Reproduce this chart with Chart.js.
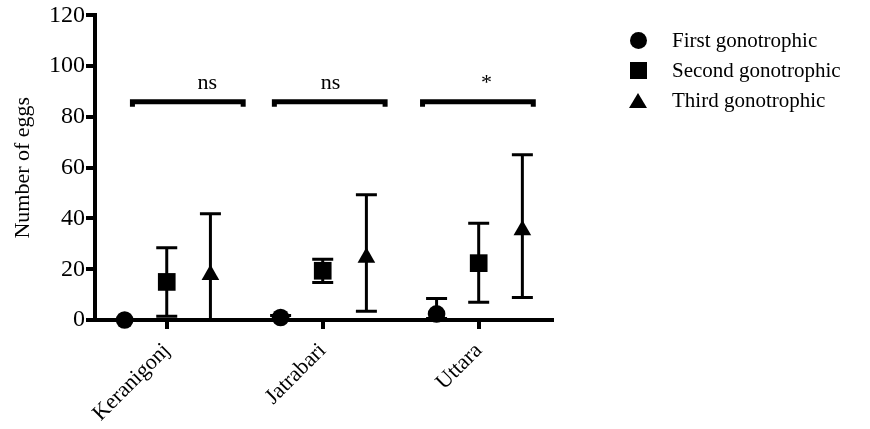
<!DOCTYPE html>
<html>
<head>
<meta charset="utf-8">
<script src="https://cdn.jsdelivr.net/npm/chart.js@4/dist/chart.umd.min.js"></script>
<style>
  html, body { margin: 0; padding: 0; background: #fff; }
  #wrap { position: relative; width: 870px; height: 429px; }
  #legend { position: absolute; left: 626px; top: 25px; font-family: "Liberation Serif", "Times New Roman", serif; font-size: 21px; color: #000; }
  #legend .row { height: 30px; display: flex; align-items: center; }
  #legend .mk { width: 24px; height: 24px; margin-right: 22px; display: flex; align-items: center; justify-content: center; }
  #legend .circle { width: 17px; height: 17px; border-radius: 50%; background: #000; }
  #legend .rect { width: 17px; height: 17px; background: #000; }
  #legend .triangle { width: 0; height: 0; border-left: 9px solid transparent; border-right: 9px solid transparent; border-bottom: 15px solid #000; }
</style>
</head>
<body>
<div id="wrap">
  <canvas id="eggChart" width="870" height="429"></canvas>
  <div id="legend"></div>
</div>
<script>
// data
var categories = ["Keranigonj", "Jatrabari", "Uttara"];
var seriesNames = ["First gonotrophic", "Second gonotrophic", "Third gonotrophic"];

var firstMean = [0, 1, 2.4];
var firstLow = [0, 0.2, 0.6];
var firstHigh = [0, 1.8, 8.5];

var secondMean = [15, 19.4, 22.4];
var secondLow = [1.5, 14.8, 7];
var secondHigh = [28.5, 23.9, 38.1];

var thirdMean = [17.8, 24.6, 35.4];
var thirdLow = [0, 3.4, 8.9];
var thirdHigh = [41.9, 49.3, 65.1];

var sigLabels = ["ns", "ns", "*"];
var sigFrom = [0.78, 1.69, 2.64];
var sigTo = [1.49, 2.40, 3.35];
var sigText = [1.26, 2.05, 3.05];
var sigLevel = 86;

var yTicks = [0, 20, 40, 60, 80, 100, 120];

// layout / style
var offsets = [-0.27, 0, 0.28];
var styles = ["circle", "rect", "triangle"];
var radii = [8.8, 12.5, 10.2];
var serif = "'Liberation Serif', 'Times New Roman', serif";

var means = [firstMean, secondMean, thirdMean];
var lows = [firstLow, secondLow, thirdLow];
var highs = [firstHigh, secondHigh, thirdHigh];

var datasets = [];
for (var s = 0; s < 3; s++) {
  var pts = [];
  for (var i = 0; i < categories.length; i++) {
    pts.push({ x: i + 1 + offsets[s], y: means[s][i] });
  }
  datasets.push({
    label: seriesNames[s],
    data: pts,
    pointStyle: styles[s],
    pointRadius: radii[s],
    pointHoverRadius: radii[s],
    backgroundColor: "#000",
    borderColor: "#000",
    borderWidth: 0,
    showLine: false,
    clip: false
  });
}

var annotate = {
  id: "annotate",
  beforeDatasetsDraw: function (chart) {
    var ctx = chart.ctx, xs = chart.scales.x, ys = chart.scales.y, a = chart.chartArea;
    ctx.save();
    ctx.beginPath();
    ctx.rect(a.left, a.top, a.right - a.left, a.bottom - a.top);
    ctx.clip();
    ctx.strokeStyle = "#000";
    ctx.lineWidth = 3;
    for (var s = 0; s < 3; s++) {
      for (var i = 0; i < categories.length; i++) {
        if (highs[s][i] === lows[s][i]) continue;
        var x = xs.getPixelForValue(i + 1 + offsets[s]);
        var yl = ys.getPixelForValue(lows[s][i]);
        var yh = ys.getPixelForValue(highs[s][i]);
        ctx.beginPath();
        ctx.moveTo(x, yl); ctx.lineTo(x, yh);
        ctx.moveTo(x - 10.5, yl); ctx.lineTo(x + 10.5, yl);
        ctx.moveTo(x - 10.5, yh); ctx.lineTo(x + 10.5, yh);
        ctx.stroke();
      }
    }
    ctx.restore();
  },
  afterDatasetsDraw: function (chart) {
    var ctx = chart.ctx, xs = chart.scales.x, ys = chart.scales.y;
    var y = ys.getPixelForValue(sigLevel);
    ctx.save();
    ctx.strokeStyle = "#000";
    ctx.fillStyle = "#000";
    ctx.lineWidth = 5;
    ctx.font = "22px " + serif;
    ctx.textAlign = "center";
    ctx.textBaseline = "alphabetic";
    for (var i = 0; i < sigLabels.length; i++) {
      var x1 = xs.getPixelForValue(sigFrom[i]);
      var x2 = xs.getPixelForValue(sigTo[i]);
      ctx.beginPath();
      ctx.moveTo(x1, y + 5); ctx.lineTo(x1, y); ctx.lineTo(x2, y); ctx.lineTo(x2, y + 5);
      ctx.stroke();
      ctx.fillText(sigLabels[i], xs.getPixelForValue(sigText[i]), y - 13);
    }
    ctx.restore();
  }
};

var chart = new Chart(document.getElementById("eggChart").getContext("2d"), {
  type: "scatter",
  data: { datasets: datasets },
  plugins: [annotate],
  options: {
    responsive: false,
    animation: false,
    layout: { padding: { top: 15, right: 318, left: 10, bottom: 0 } },
    plugins: { legend: { display: false }, tooltip: { enabled: false } },
    scales: {
      x: {
        type: "linear",
        min: 0.54,
        max: 3.47,
        afterBuildTicks: function (scale) {
          scale.ticks = categories.map(function (c, i) { return { value: i + 1 }; });
        },
        afterFit: function (scale) { scale.height = 109; },
        ticks: {
          autoSkip: false,
          minRotation: 45,
          maxRotation: 45,
          padding: 9,
          color: "#000",
          font: { family: serif, size: 22 },
          callback: function (v) { return categories[Math.round(v) - 1]; }
        },
        grid: { drawOnChartArea: false, drawTicks: true, tickLength: 9, lineWidth: 4, color: "#000" },
        border: { display: true, width: 4, color: "#000" }
      },
      y: {
        min: 0,
        max: 120,
        afterBuildTicks: function (scale) {
          scale.ticks = yTicks.map(function (v) { return { value: v }; });
        },
        afterFit: function (scale) { scale.width = 85; },
        ticks: { color: "#000", font: { family: serif, size: 24 }, padding: 1 },
        grid: { drawOnChartArea: false, drawTicks: true, tickLength: 9, lineWidth: 4, color: "#000" },
        border: { display: true, width: 4, color: "#000" },
        title: { display: true, text: "Number of eggs", color: "#000", font: { family: serif, size: 22 }, padding: 0 }
      }
    }
  }
});

// html legend built from the chart's datasets
var legendEl = document.getElementById("legend");
chart.data.datasets.forEach(function (ds) {
  var row = document.createElement("div");
  row.className = "row";
  var mk = document.createElement("div");
  mk.className = "mk";
  var shape = document.createElement("div");
  shape.className = ds.pointStyle;
  mk.appendChild(shape);
  var txt = document.createElement("span");
  txt.textContent = ds.label;
  row.appendChild(mk);
  row.appendChild(txt);
  legendEl.appendChild(row);
});
</script>
</body>
</html>
